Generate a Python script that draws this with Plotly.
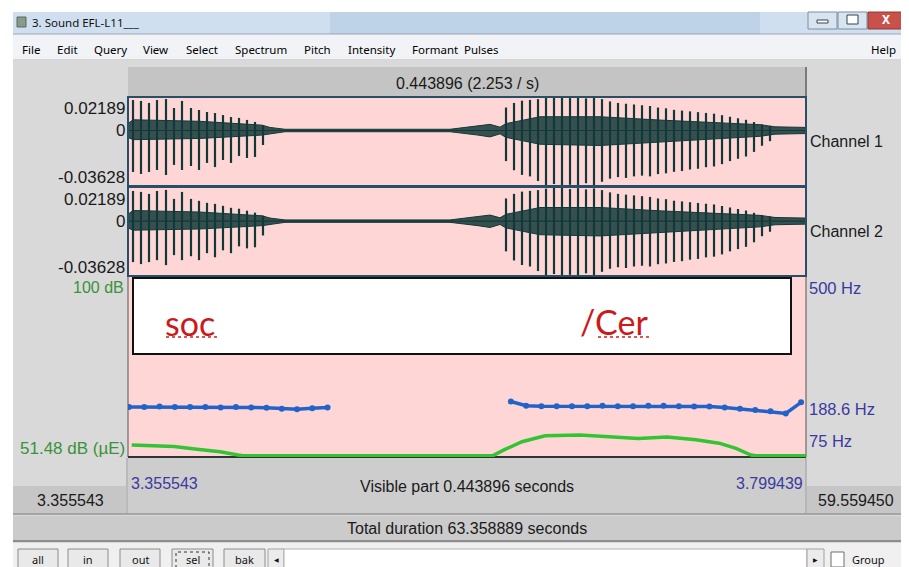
import plotly.graph_objects as go

W, H = 909, 567
OX, OY = 8, 8                      # page body margin offset of the figure
FW, FH = W - OX, H - OY            # figure ends at the window edge

# ---------------- data ----------------
T_START, T_END = 3.355543, 3.799439
AMP_MIN, AMP_MAX = -0.03628, 0.02189
PITCH_MIN, PITCH_MAX = 75, 500
INT_MIN, INT_MAX = 51.48, 100

# glottal pulses of the waveform (time s, negative peak, positive peak)
pulse_t = [3.35882, 3.36405, 3.36929, 3.37453, 3.38042, 3.38566, 3.39090, 3.39679,
           3.40203, 3.40727, 3.41250, 3.41774, 3.42298, 3.42822, 3.43345, 3.43869, 3.44393,
           3.60303, 3.60827, 3.61350, 3.61874, 3.62398, 3.62922, 3.63445, 3.63969,
           3.64493, 3.65017, 3.65541, 3.66064, 3.66588, 3.67112, 3.67636, 3.68159,
           3.68683, 3.69207, 3.69731, 3.70254, 3.70778, 3.71302, 3.71826, 3.72350,
           3.72873, 3.73397, 3.73921, 3.74445, 3.74968, 3.75492, 3.76016, 3.76540,
           3.77064, 3.77587]
pulse_lo = [-0.0271, -0.0284, -0.0271, -0.0258, -0.0291, -0.0225, -0.0258, -0.0232,
            -0.0258, -0.0212, -0.0239, -0.0193, -0.0212, -0.0167, -0.0180, -0.0173, -0.0095,
            -0.0200, -0.0260, -0.0290, -0.0300, -0.0330, -0.0362, -0.0350, -0.0363,
            -0.0355, -0.0363, -0.0345, -0.0360, -0.0335, -0.0315, -0.0305, -0.0310,
            -0.0300, -0.0295, -0.0300, -0.0285, -0.0280, -0.0270, -0.0265, -0.0255,
            -0.0250, -0.0240, -0.0235, -0.0220, -0.0200, -0.0185, -0.0170, -0.0140,
            -0.0100, -0.0070]
pulse_hi = [0.0199, 0.0193, 0.0180, 0.0199, 0.0206, 0.0147, 0.0193, 0.0147,
            0.0134, 0.0121, 0.0114, 0.0101, 0.0088, 0.0082, 0.0069, 0.0056, 0.0036,
            0.0150, 0.0180, 0.0195, 0.0200, 0.0205, 0.0215, 0.0219, 0.0219,
            0.0212, 0.0218, 0.0210, 0.0216, 0.0205, 0.0190, 0.0180, 0.0175,
            0.0170, 0.0165, 0.0160, 0.0150, 0.0145, 0.0135, 0.0130, 0.0125,
            0.0120, 0.0115, 0.0110, 0.0100, 0.0090, 0.0080, 0.0070, 0.0055,
            0.0040, 0.0030]

# envelope of the dense ringing / noise between pulses
env_t = [3.35554, 3.35882, 3.40268, 3.42887, 3.44327, 3.44851, 3.45833, 3.56636,
         3.57291, 3.58469, 3.59255, 3.59910, 3.60303, 3.62529, 3.66457, 3.70385,
         3.74314, 3.76933, 3.77915, 3.79944]
env_hi = [0.0045, 0.0070, 0.0060, 0.0045, 0.0035, 0.0020, 0.0008, 0.0008,
          0.0015, 0.0030, 0.0040, 0.0022, 0.0045, 0.0090, 0.0090, 0.0068,
          0.0052, 0.0038, 0.0024, 0.0020]
env_lo = [-0.0045, -0.0060, -0.0052, -0.0038, -0.0030, -0.0020, -0.0008, -0.0008,
          -0.0015, -0.0030, -0.0042, -0.0022, -0.0045, -0.0090, -0.0098, -0.0075,
          -0.0052, -0.0038, -0.0024, -0.0020]

# pitch (Hz)
pitch1_t = [3.3562, 3.3662, 3.3762, 3.3862, 3.3962, 3.4062, 3.4162, 3.4262,
            3.4362, 3.4462, 3.4562, 3.4662, 3.4762, 3.4862]
pitch1_hz = [193, 193, 194, 193, 193, 193, 192, 193, 192, 191, 189, 188, 190, 192]
pitch2_t = [3.6062, 3.6162, 3.6262, 3.6362, 3.6462, 3.6562, 3.6662, 3.6762,
            3.6862, 3.6962, 3.7062, 3.7162, 3.7262, 3.7362, 3.7462, 3.7562,
            3.7662, 3.7762, 3.7862, 3.7962]
pitch2_hz = [206, 196, 195, 195, 195, 195, 196, 195, 195, 196, 196, 195, 194, 194,
             192, 189, 186, 183, 178, 204]

# intensity (dB)
int_t = [3.3580, 3.3857, 3.4007, 3.4158, 3.4276, 3.4308, 3.5945, 3.6017, 3.6135,
         3.6286, 3.6515, 3.6705, 3.6895, 3.7084, 3.7274, 3.7425, 3.7536, 3.7634,
         3.7666, 3.7994]
int_db = [54.7, 54.3, 53.6, 52.9, 52.0, 51.85, 51.85, 53.4, 55.6,
          57.2, 57.4, 56.95, 56.5, 56.9, 56.1, 55.2, 53.8, 52.0,
          51.85, 51.85]

menu_items = ["File", "Edit", "Query", "View", "Select", "Spectrum", "Pitch",
              "Intensity", "Formant", "Pulses"]
button_labels = ["all", "in", "out", "sel", "bak"]

# ---------------- helpers ----------------
def px(x):
    return (x - OX) / FW


def py(y):
    return 1 - (y - OY) / FH


shapes = []
annotations = []


def rect(x0, y0, x1, y1, fill, line=None, lw=0, layer="below", dash=None):
    ln = dict(color=line if line else fill, width=lw)
    if dash:
        ln["dash"] = dash
    shapes.append(dict(type="rect", xref="paper", yref="paper", x0=px(x0), x1=px(x1),
                       y0=py(y1), y1=py(y0), fillcolor=fill, line=ln, layer=layer))


def hline(x0, x1, y, color, lw=1, layer="below", dash=None):
    ln = dict(color=color, width=lw)
    if dash:
        ln["dash"] = dash
    shapes.append(dict(type="line", xref="paper", yref="paper", x0=px(x0), x1=px(x1),
                       y0=py(y), y1=py(y), line=ln, layer=layer))


def vline(x, y0, y1, color, lw=1, layer="below"):
    shapes.append(dict(type="line", xref="paper", yref="paper", x0=px(x), x1=px(x),
                       y0=py(y0), y1=py(y1), line=dict(color=color, width=lw), layer=layer))


def txt(s, x, y, size, color="#1a1a1a", xanchor="left", family="Liberation Sans",
        yref="paper", yanchor="middle", yshift=0, weight="normal"):
    annotations.append(dict(text=s, x=px(x), xref="paper",
                            y=(py(y) if yref == "paper" else y), yref=yref,
                            xanchor=xanchor, yanchor=yanchor, yshift=yshift,
                            showarrow=False,
                            font=dict(size=size, color=color, family=family, weight=weight)))


UI = "Noto Sans"
PINK = "#ffd6d6"
PANEL_LINE = "#274f69"

# ---------------- window chrome ----------------
rect(13, 12, 909, 34, "#cfdfef")
rect(330, 12, 760, 34, "#bed2e8")
rect(17, 17, 26, 27, "#8a9a8a", "#5a6a5a", 1)
txt("3. Sound EFL-L11___", 30, 22, 11.5, "#111111", family=UI)
rect(808, 12, 837, 29, "#d9e4f1", "#7d8ea3", 1)
rect(817, 20, 828, 23, "#ffffff", "#33414f", 1)
rect(838, 12, 867, 29, "#d9e4f1", "#7d8ea3", 1)
rect(847, 15, 858, 24, "#ffffff", "#33414f", 1)
rect(868, 12, 909, 29, "#c8524a", "#8a3a34", 1)
txt("X", 886, 19, 12, "#ffffff", xanchor="center", family=UI, weight="bold")

rect(13, 34, 909, 60, "#f1f3f6")
hline(13, 909, 34, "#9aa6b4", 1)
hline(13, 909, 60, "#b8b8b8", 1)
menu_x = [20, 55, 92, 141, 184, 233, 302, 346, 410, 462]
for label, mx in zip(menu_items, menu_x):
    txt(label, mx, 49, 11.5, "#000000", family=UI)
txt("Help", 898, 49, 11.5, "#000000", xanchor="right", family=UI)

# body background
rect(13, 60, 909, 543, "#d9d9d9")

# header bar above waveform
rect(128, 67, 806, 96, "#c4c4c4")
vline(806, 67, 96, "#7a7a7a", 2)
txt("0.443896 (2.253 / s)", 467, 83, 16, "#1a1a1a", xanchor="center")

# panels
rect(128, 97, 806, 186, PINK)
rect(128, 188, 806, 276, PINK)
rect(128, 277, 806, 457, PINK)
rect(133, 278, 791, 354, "#ffffff", "#111111", 2)
vline(128, 277, 457, "#555555", 1)
vline(806, 277, 457, "#555555", 1)
hline(128, 806, 457, "#333333", 2)

# bottom info area
rect(128, 458, 806, 513, "#cdcdcd")
rect(13, 486, 126, 513, "#c6c6c6")
vline(127, 458, 513, "#9a9a9a", 1)
rect(807, 486, 909, 513, "#c6c6c6")
vline(806, 458, 513, "#9a9a9a", 1)
hline(13, 909, 514, "#a5a5a5", 2)
rect(13, 516, 909, 540, "#cbcbcb")
hline(13, 909, 541, "#8d8d8d", 2)
rect(13, 543, 909, 567, "#f0f0f0")

# buttons
btn_x = [(18, 58), (68, 108), (120, 160), (172, 213), (224, 265)]
for label, (bx0, bx1) in zip(button_labels, btn_x):
    rect(bx0, 549, bx1, 570, "#e9e9e9", "#8c8c8c", 1)
    txt(label, (bx0 + bx1) / 2, 559, 11, "#111111", xanchor="center", family=UI)
rect(176, 552, 209, 569, "rgba(0,0,0,0)", "#333333", 1, dash="dot")
rect(268, 549, 284, 570, "#ececec", "#a0a0a0", 1)
txt("◀", 276, 559, 6, "#111111", xanchor="center", family="DejaVu Sans")
rect(284, 549, 807, 570, "#ffffff", "#b0b0b0", 1)
rect(807, 549, 824, 570, "#ececec", "#a0a0a0", 1)
txt("▶", 815, 559, 6, "#111111", xanchor="center", family="DejaVu Sans")
rect(831, 552, 844, 567, "#ffffff", "#6f6f6f", 1)
txt("Group", 850, 559, 11, "#111111", family=UI)

# ---------------- data traces ----------------
WAVE = "#133838"
fig = go.Figure()

for xa, ya in (("x", "y"), ("x2", "y2")):
    fig.add_trace(go.Scatter(
        x=env_t + env_t[::-1], y=env_hi + env_lo[::-1], xaxis=xa, yaxis=ya,
        fill="toself", fillcolor="rgba(19,56,56,0.85)", mode="lines",
        line=dict(color=WAVE, width=1), hoverinfo="skip", showlegend=False))
    xs, ys = [], []
    for t, lo, hi in zip(pulse_t, pulse_lo, pulse_hi):
        xs += [t, t, None]
        ys += [lo, hi, None]
    fig.add_trace(go.Scatter(x=xs, y=ys, xaxis=xa, yaxis=ya, mode="lines",
                             line=dict(color=WAVE, width=2.2), hoverinfo="skip",
                             showlegend=False))
    fig.add_trace(go.Scatter(x=[T_START, T_END], y=[0, 0], xaxis=xa, yaxis=ya,
                             mode="lines", line=dict(color=WAVE, width=1.2),
                             hoverinfo="skip", showlegend=False))

# intensity
fig.add_trace(go.Scatter(x=int_t, y=int_db, xaxis="x3", yaxis="y4", mode="lines",
                         line=dict(color="#33c433", width=3.5), showlegend=False))
# pitch
for pt, ph in ((pitch1_t, pitch1_hz), (pitch2_t, pitch2_hz)):
    fig.add_trace(go.Scatter(x=pt, y=ph, xaxis="x3", yaxis="y3", mode="lines+markers",
                             line=dict(color="#2263c8", width=3.5),
                             marker=dict(color="#2263c8", size=6), showlegend=False))

# panel borders on top
rect(128, 97, 806, 186, "rgba(0,0,0,0)", PANEL_LINE, 2, layer="above")
rect(128, 187, 806, 276, "rgba(0,0,0,0)", PANEL_LINE, 2, layer="above")

# ---------------- labels ----------------
for yax in ("y", "y2"):
    txt("0.02189", 127, AMP_MAX, 17, xanchor="right", yref=yax, yanchor="top")
    txt("0", 127, 0, 17, xanchor="right", yref=yax, yanchor="middle")
    txt("-0.03628", 127, AMP_MIN, 17, xanchor="right", yref=yax, yanchor="bottom",
        yshift=-3)
txt("Channel 1", 808, 141, 16)
txt("Channel 2", 808, 231, 16)

GREEN = "#3a923a"
BLUE = "#3a3aa0"
txt("100 dB", 126, INT_MAX, 16, GREEN, xanchor="right", yref="y4", yanchor="top")
txt("51.48 dB (µE)", 127, INT_MIN, 17, GREEN, xanchor="right", yref="y4",
    yanchor="bottom", yshift=-3)
txt("500 Hz", 807, PITCH_MAX, 16.5, BLUE, yref="y3", yanchor="top")
txt("188.6 Hz", 807, 188.6, 16.5, BLUE, yref="y3", yanchor="middle")
txt("75 Hz", 807, PITCH_MIN, 16.5, BLUE, yref="y3", yanchor="bottom", yshift=5)

txt("soc", 163, 322, 34, "#cc1a1a", family="Lato")
txt("/Cer", 578, 321, 34, "#cc1a1a", family="Lato")
hline(166, 218, 337, "#cc2020", 1.5, layer="above", dash="dot")
hline(598, 651, 337, "#cc2020", 1.5, layer="above", dash="dot")

txt("3.355543", 129, 483, 16, BLUE)
txt("Visible part 0.443896 seconds", 467, 486, 16, "#1a1a1a", xanchor="center")
txt("3.799439", 805, 483, 16, BLUE, xanchor="right")
txt("3.355543", 70, 500, 16, "#1a1a1a", xanchor="center")
txt("59.559450", 856, 500, 16, "#1a1a1a", xanchor="center")
txt("Total duration 63.358889 seconds", 467, 528, 16, "#1a1a1a", xanchor="center")

# ---------------- axes ----------------
xdom = [px(128), px(806)]
ax_common = dict(visible=False, showgrid=False, zeroline=False, fixedrange=True)
fig.update_layout(
    width=FW, height=FH, margin=dict(l=0, r=0, t=0, b=0),
    paper_bgcolor="#ffffff", plot_bgcolor="rgba(0,0,0,0)",
    showlegend=False,
    xaxis=dict(domain=xdom, range=[T_START, T_END], anchor="y", **ax_common),
    xaxis2=dict(domain=xdom, range=[T_START, T_END], anchor="y2", **ax_common),
    xaxis3=dict(domain=xdom, range=[T_START, T_END], anchor="y3", **ax_common),
    yaxis=dict(domain=[py(186), py(97)], range=[AMP_MIN, AMP_MAX], anchor="x", **ax_common),
    yaxis2=dict(domain=[py(276), py(188)], range=[AMP_MIN, AMP_MAX], anchor="x2", **ax_common),
    yaxis3=dict(domain=[py(457), py(277)], range=[PITCH_MIN, PITCH_MAX], anchor="x3", **ax_common),
    yaxis4=dict(domain=[py(457), py(277)], range=[INT_MIN, INT_MAX], anchor="x3",
                overlaying="y3", **ax_common),
    shapes=shapes, annotations=annotations,
)

fig.write_html("out.html")
